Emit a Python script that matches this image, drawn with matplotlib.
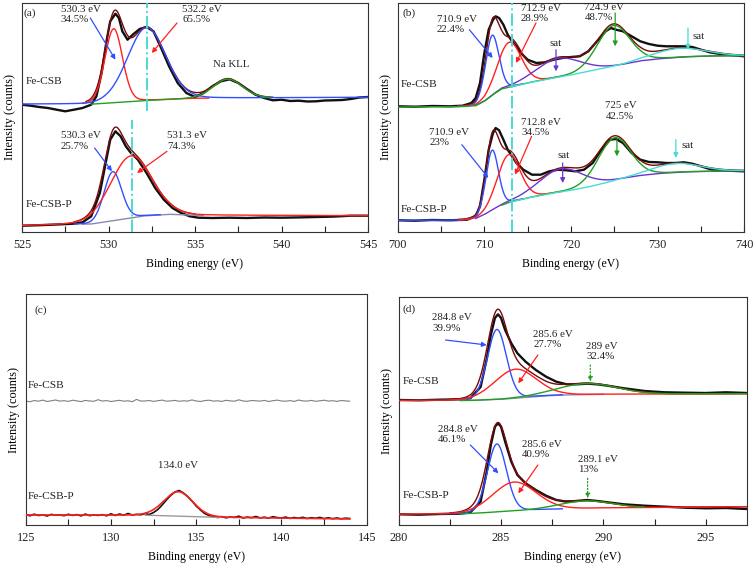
import numpy as np
import matplotlib.pyplot as plt
from matplotlib.ticker import MultipleLocator

plt.rcParams['font.family'] = ['Liberation Serif', 'DejaVu Serif']
plt.rcParams['font.size'] = 8.5
plt.rcParams['text.color'] = '#222222'

# ---------------- (a) O 1s ----------------
a1_x = [525, 525.5, 526, 526.5, 527, 527.5, 528, 528.5, 529, 529.3, 529.6, 529.9, 530.1, 530.4,
        530.6, 530.8, 531.1, 531.4, 531.8, 532.2, 532.6, 533, 533.5, 534, 534.5, 535, 535.5, 536,
        536.5, 537, 537.5, 538, 538.5, 539, 539.5, 540, 540.5, 541, 541.5, 542, 542.5, 543, 543.5,
        544, 544.5, 545]
a1_y = [127.3, 126.3, 125, 124, 122.3, 120.7, 122.3, 124, 127.3, 135.7, 159, 192.3, 210.7, 218.3,
        214, 200.7, 192.3, 197.3, 203, 205, 200.7, 185.7, 165.7, 149, 139, 135, 139, 145.7,
        150.7, 152.7, 149, 143, 137.3, 134, 131.7, 132.3, 131, 131.3, 130.5, 130.7, 131.5, 131.7, 132,
        133, 134.5, 135]
a1_bx = [525, 529, 532, 535, 545]
a1_by = [127.8, 127.8, 131.3, 133.7, 134.7]
a1_c = [530.3, 532.2, 536.9]          # O-lattice, O-H, Na KLL
a1_h = [74, 73, 19]
a1_w = [1.2, 2.6, 2.0]

a2_x = [525, 526, 527, 528, 528.5, 529, 529.5, 529.8, 530.1, 530.4, 530.7, 531, 531.3, 531.7, 532.2,
        532.7, 533.2, 533.7, 534.2, 534.7, 535.2, 536, 537, 538, 539, 540, 541, 542, 543, 544, 545]
a2_y = [6.3, 6.8, 7.5, 8.3, 9.7, 15.7, 39, 65.7, 92.3, 100.7, 95.7, 85.7, 79, 72.3, 59,
        44, 32.3, 24, 19, 15.7, 14.3, 14, 14.3, 14, 14.5, 14.3, 14.6, 15, 15.4, 16.3, 16.3]
a2_bx = [525, 529, 530.5, 532, 533.5, 535, 545]
a2_by = [6.3, 8, 12, 16, 17.7, 16.7, 16.3]
a2_c = [530.25, 531.3]
a2_h = [49, 62]
a2_w = [1.2, 2.8]

# ---------------- (b) Fe 2p ----------------
b1_x = [700, 702, 704, 706, 707.5, 708.5, 709, 709.5, 710, 710.5, 711, 711.3, 711.7, 712.2, 712.7,
        713.2, 713.7, 714.2, 715, 716, 717, 718, 719, 720, 721, 722, 723, 724, 724.6, 725.2, 726,
        727, 728, 729, 730, 731, 732, 733, 734, 735, 736, 737, 738, 740]
b1_y = [125.7, 125.3, 126, 125.7, 126.3, 129, 134, 149, 179, 202.3, 212.3, 215.7, 214, 207.3, 197.3,
        190.7, 185.7, 179, 172.3, 169, 169.7, 172.3, 174, 175, 175.7, 180.7, 190.7, 200.7, 204,
        202.3, 200.7, 195.7, 190.7, 188, 186.3, 185.7, 185.7, 185.7, 185, 182.3, 179.7, 178.3,
        177.3, 175.7]
b1_bx = [700, 707.5, 709, 710, 711, 712, 713, 715, 718, 720, 722, 724, 726, 728, 730, 733, 736, 740]
b1_by = [125, 125.3, 126.3, 130.7, 137.3, 143, 145, 149, 154, 157, 160.7, 164, 167.3, 171, 173,
         175, 176, 176.3]
b1_c = [710.9, 712.9, 718.5, 724.9, 732.5]
b1_h = [60, 45, 19, 41, 9]
b1_w = [1.8, 3.2, 6.0, 4.4, 7.0]

b2_x = [700, 702, 704, 706, 708, 709, 709.5, 710, 710.5, 711, 711.3, 711.7, 712.2, 712.7, 713.2,
        713.7, 714.5, 715.5, 716.5, 717.5, 718.5, 719.5, 720.5, 721.5, 722.5, 723.5, 724.5, 725.2,
        726, 727, 728, 729, 730, 731, 732, 733, 734, 735, 736, 737, 740]
b2_y = [11.7, 11.3, 12, 11.7, 12.3, 15.7, 25.7, 52.3, 82.3, 99, 104, 101.7, 92.3, 82.3, 75.7,
        69, 62.3, 57.3, 57.3, 60.7, 62.3, 61.7, 60.7, 62.3, 69, 82.3, 92.3, 93,
        89, 79, 72.3, 70, 69.7, 69, 69, 69.7, 68.3, 65.7, 63, 61.7, 60.7]
b2_bx = [700, 707.5, 709, 710, 711, 712, 713, 715, 718, 720, 722, 724, 726, 728, 730, 733, 736, 740]
b2_by = [11.7, 11.7, 13.3, 17.3, 22.3, 26.7, 30, 34, 39, 41.7, 45, 49, 53.3, 56.3, 58.3, 60,
         60.7, 61.3]
b2_c = [710.9, 712.8, 718.8, 725.0, 732.1]
b2_h = [60, 48, 23, 43, 9]
b2_w = [1.7, 3.1, 6.0, 4.4, 6.5]

# ---------------- (c) P 2p ----------------
c1_y = [124.0, 123.2, 124.5, 123.8, 124.9, 123.5, 124.2, 125.0, 123.9, 124.3, 123.6, 124.8, 124.1,
        123.4, 124.6, 124.0, 123.7, 125.3, 123.9, 124.4, 123.5, 124.1, 124.7, 123.8, 124.2, 123.3,
        125.6, 123.9, 124.0, 124.5, 123.6, 124.3, 124.9, 123.8, 124.1, 124.6, 123.7, 124.2, 123.9,
        125.1, 124.0, 123.5, 124.4, 124.8, 123.9, 124.2, 123.6, 124.7, 124.1, 123.8, 125.2, 124.0,
        123.7, 124.5, 124.2, 123.9, 124.6, 123.5, 124.3, 124.9, 124.0, 123.8, 124.4, 123.6, 125.0,
        124.1, 123.9, 124.6, 123.7, 124.2, 124.8, 123.9, 124.3, 123.6, 124.5, 124.1, 123.8]
c2_y = [10.5, 9.2, 10.8, 9.5, 10.2, 9.0, 10.6, 9.8, 10.1, 9.3, 10.7, 9.6, 10.4, 9.1, 10.9, 9.4,
        10.0, 9.6, 10.3, 9.2, 11.2, 9.5, 11.0, 9.8, 11.5, 10.0, 10.6, 10.2, 11.4, 10.5, 12.5, 15.5,
        20.0, 25.0, 29.5, 33.0, 34.5, 32.0, 28.5, 24.0, 19.0, 15.0, 11.5, 9.5, 8.6, 7.5, 8.4, 7.2,
        8.0, 7.6, 8.8, 7.0, 7.9, 7.3, 8.5, 7.1, 7.8, 6.9, 8.3, 7.4, 7.0, 7.9, 6.6, 7.5, 6.8, 7.7,
        6.5, 7.3, 6.7, 7.6, 6.4, 7.2, 6.3, 7.0, 6.2, 6.8, 6.5]
c_range = (125, 144)
c2_bx = [125, 132.3, 136, 144]
c2_by = [10, 9.7, 7.7, 6]
c2_c = [133.95]
c2_h = [24.5]
c2_w = [2.0]

# ---------------- (d) C 1s ----------------
d_x = [280, 281, 282, 283, 283.5, 284, 284.3, 284.5, 284.7, 284.85, 285, 285.2, 285.5, 285.8, 286.2,
       286.7, 287.2, 287.7, 288.2, 288.7, 289.2, 289.7, 290.2, 291, 292, 293, 294, 295, 296, 297]
d1_y = [125, 124.7, 125.3, 125.7, 126.7, 138, 166, 190, 207, 210.7, 207, 195, 181.7, 171.7, 163.3,
        155, 148.3, 143.3, 140.7, 140.7, 141.3, 140.7, 139.3, 136.7, 134, 132.7, 132.3, 132, 132.7,
        132]
d1_bx = [280, 283.5, 285, 286, 287, 288, 290, 297]
d1_by = [124.5, 124.5, 125.7, 127.3, 129, 130, 130.7, 131.3]
d1_c = [284.8, 285.7, 289.2]
d1_h = [70, 29, 11]
d1_w = [1.1, 2.4, 3.4]

d2_y = [10.7, 10.3, 11, 11.3, 12.7, 23.3, 53.3, 80, 98.3, 101.7, 98.3, 83.3, 63.3, 50, 41.7,
        35, 29.3, 25, 23.3, 24, 25, 24, 22.7, 20.7, 19.3, 18.3, 17.3, 16.7, 17, 16]
d2_bx = [280, 283, 284, 285, 286, 287, 288, 290, 297]
d2_by = [10.7, 11, 12, 13.3, 14.3, 15.3, 16, 17, 18.3]
d2_c = [284.8, 285.65, 289.1]
d2_h = [68, 29, 7.5]
d2_w = [1.1, 2.5, 3.0]

BLUE = '#3050ff'
RED = '#ff2020'
GREEN = '#20a020'
PURPLE = '#6a35d0'
CYAN = '#45dcd4'
ENV = '#7a0a0a'
BASE = '#8a8ab0'
DATA = '#111111'
ANN = 7.8
SAMPLE = 8.2


def gl(x, c, h, w, m=0.1):
    g = np.exp(-4 * np.log(2) * (x - c) ** 2 / w ** 2)
    l = 1 / (1 + 4 * (x - c) ** 2 / w ** 2)
    return h * ((1 - m) * g + m * l)


def spectrum(ax, xlim, dx, dy, bx, by, cs, hs, ws, colors, spans, env_span, base_color=BASE,
             base_span=None):
    x = np.linspace(xlim[0], xlim[1], 1200)
    base = np.interp(x, bx, by)
    comps = [gl(x, c, h, w) for c, h, w in zip(cs, hs, ws)]
    ax.plot(dx, dy, color=DATA, lw=1.7, zorder=2)
    k = (x >= env_span[0]) & (x <= env_span[1])
    ax.plot(x[k], (base + sum(comps))[k], color=ENV, lw=1.0, zorder=3)
    if base_span is not None:
        k = (x >= base_span[0]) & (x <= base_span[1])
        ax.plot(x[k], base[k], color=base_color, lw=1.0, zorder=3)
    for comp, col, sp in zip(comps, colors, spans):
        k = (x >= sp[0]) & (x <= sp[1])
        ax.plot(x[k], (base + comp)[k], color=col, lw=1.0, zorder=4)


def arrow(ax, start, end, color, ls='-'):
    ax.annotate('', xy=end, xytext=start,
                arrowprops=dict(arrowstyle='-|>', color=color, lw=0.9, ls=ls,
                                mutation_scale=7, shrinkA=0, shrinkB=0), zorder=6)


def label(ax, x, y, s):
    ax.text(x, y, s, ha='left', va='top', fontsize=ANN, linespacing=1.2, zorder=7)


def style(ax, xlim, major, ylim):
    ax.set_xlim(*xlim)
    ax.set_ylim(*ylim)
    ax.set_yticks([])
    ax.xaxis.set_major_locator(MultipleLocator(major))
    ax.xaxis.set_minor_locator(MultipleLocator(major / 2))
    ax.tick_params(axis='x', which='both', direction='in', length=4, width=0.8, pad=5,
                   labelsize=8.8, colors='#222222')
    for s in ax.spines.values():
        s.set_linewidth(0.8)
        s.set_color('#333333')
    ax.set_xlabel('Binding energy (eV)', fontsize=8.5, labelpad=5)
    ax.set_ylabel('Intensity (counts)', fontsize=8.8, labelpad=4)


fig = plt.figure(figsize=(7.56, 5.65), dpi=100)
W, H = 756, 565
axa = fig.add_axes([22 / W, 1 - 232 / H, 346 / W, 229 / H])
axb = fig.add_axes([397.7 / W, 1 - 232 / H, 346.6 / W, 229 / H])
axc = fig.add_axes([25.7 / W, 1 - 525 / H, 341 / W, 230.7 / H])
axd = fig.add_axes([398.7 / W, 1 - 525 / H, 348 / W, 228.3 / H])

# ---- (a)
spectrum(axa, (525, 545), a1_x, a1_y, a1_bx, a1_by, a1_c, a1_h, a1_w,
         [RED, BLUE, GREEN], [(528.5, 535.8), (525, 545), (529, 539.3)], (528.7, 539.5))
spectrum(axa, (525, 545), a2_x, a2_y, a2_bx, a2_by, a2_c, a2_h, a2_w,
         [BLUE, RED], [(528, 533), (525, 545)], (528, 535), base_span=(528.5, 535.5))
axa.plot([532.2, 532.2], [120.7, 229], color=CYAN, lw=1.4, ls='-.', zorder=5)
axa.plot([531.35, 531.35], [0, 112.3], color=CYAN, lw=1.4, ls='-.', zorder=5)
label(axa, 527.25, 227.3, '530.3 eV\n34.5%')
label(axa, 534.25, 227.3, '532.2 eV\n65.5%')
label(axa, 536.05, 172.3, 'Na KLL')
label(axa, 527.25, 100.7, '530.3 eV\n25.7%')
label(axa, 533.38, 100.7, '531.3 eV\n74.3%')
arrow(axa, (528.95, 214), (530.4, 172.3), BLUE)
arrow(axa, (533.96, 209), (532.5, 179), RED)
arrow(axa, (529.2, 84), (530.2, 60.7), BLUE)
arrow(axa, (533.38, 80.7), (531.65, 59), RED)
axa.text(525.2, 150.7, 'Fe-CSB', va='center', fontsize=SAMPLE)
axa.text(525.2, 27.3, 'Fe-CSB-P', va='center', fontsize=SAMPLE)
axa.text(0.005, 0.978, '(a)', transform=axa.transAxes, va='top', fontsize=SAMPLE)
style(axa, (525, 545), 5, (0, 229))

# ---- (b)
b_cols = [BLUE, RED, PURPLE, GREEN, CYAN]
spectrum(axb, (700, 740), b1_x, b1_y, b1_bx, b1_by, b1_c, b1_h, b1_w, b_cols,
         [(707, 714.5), (707, 719), (709, 740), (700, 740), (713, 740)], (707, 740))
spectrum(axb, (700, 740), b2_x, b2_y, b2_bx, b2_by, b2_c, b2_h, b2_w, b_cols,
         [(700, 714.5), (707, 719), (709, 740), (712, 740), (713, 740)], (707, 740))
axb.plot([713.2, 713.2], [0, 229], color=CYAN, lw=1.4, ls='-.', zorder=5)
label(axb, 704.5, 217.3, '710.9 eV\n22.4%')
label(axb, 714.23, 228.3, '712.9 eV\n28.9%')
label(axb, 721.54, 229.5, '724.9 eV\n48.7%')
label(axb, 717.5, 193, 'sat')
label(axb, 734.0, 199.7, 'sat')
arrow(axb, (708.27, 202.3), (710.96, 174), BLUE)
arrow(axb, (715.96, 209), (713.65, 169), RED)
arrow(axb, (725.1, 219), (725.1, 185.7), GREEN)
arrow(axb, (718.27, 182.3), (718.27, 160.7), PURPLE)
arrow(axb, (733.5, 204), (733.5, 182.3), CYAN)
label(axb, 703.65, 104, '710.9 eV\n23%')
label(axb, 714.23, 114, '712.8 eV\n34.5%')
label(axb, 723.96, 130.7, '725 eV\n42.5%')
label(axb, 718.46, 80.7, 'sat')
label(axb, 732.7, 90.7, 'sat')
arrow(axb, (707.4, 87.3), (710.46, 54), BLUE)
arrow(axb, (715.46, 95.7), (713.54, 57.3), RED)
arrow(axb, (725.3, 92.3), (725.3, 75.7), GREEN)
arrow(axb, (719.04, 69), (719.04, 49), PURPLE)
arrow(axb, (732.1, 92.3), (732.1, 74), CYAN)
axb.text(700.4, 147.3, 'Fe-CSB', va='center', fontsize=SAMPLE)
axb.text(700.4, 22.3, 'Fe-CSB-P', va='center', fontsize=SAMPLE)
axb.text(0.0125, 0.977, '(b)', transform=axb.transAxes, va='top', fontsize=SAMPLE)
style(axb, (700, 740), 10, (0, 229))

# ---- (c)
cx1 = np.linspace(c_range[0], c_range[1], len(c1_y))
cx2 = np.linspace(c_range[0], c_range[1], len(c2_y))
axc.plot(cx1, c1_y, color='#7f7f7f', lw=0.8)
xc = np.linspace(c_range[0], c_range[1], 800)
basec = np.interp(xc, c2_bx, c2_by)
axc.plot(cx2, c2_y, color=DATA, lw=1.2, zorder=2)
k = (xc >= 132) & (xc <= 136.5)
axc.plot(xc[k], basec[k], color='#999999', lw=1.0, zorder=3)
axc.plot(xc, basec + gl(xc, c2_c[0], c2_h[0], c2_w[0]), color=RED, lw=1.2, zorder=4)
label(axc, 132.75, 64.3, '134.0 eV')
axc.text(125.1, 140, 'Fe-CSB', va='center', fontsize=SAMPLE)
axc.text(125.1, 28.3, 'Fe-CSB-P', va='center', fontsize=SAMPLE)
axc.text(0.025, 0.95, '(c)', transform=axc.transAxes, va='top', fontsize=SAMPLE)
style(axc, (125, 145), 5, (0, 230.7))

# ---- (d)
d_cols = [BLUE, RED, GREEN]
spectrum(axd, (280, 297), d_x, d1_y, d1_bx, d1_by, d1_c, d1_h, d1_w, d_cols,
         [(283, 288), (280, 297), (283, 297)], (282.5, 297), base_span=(283, 290))
spectrum(axd, (280, 297), d_x, d2_y, d2_bx, d2_by, d2_c, d2_h, d2_w, d_cols,
         [(282, 288), (280, 297), (283, 292)], (282.5, 297))
label(axd, 281.64, 211.7, '284.8 eV\n39.9%')
label(axd, 286.57, 195, '285.6 eV\n27.7%')
label(axd, 289.15, 183.3, '289 eV\n32.4%')
arrow(axd, (282.29, 185), (284.3, 180), BLUE)
arrow(axd, (286.8, 170), (285.84, 141.7), RED)
arrow(axd, (289.36, 160), (289.36, 143.3), GREEN, ls=':')
label(axd, 281.93, 100, '284.8 eV\n46.1%')
label(axd, 286.0, 85, '285.6 eV\n40.9%')
label(axd, 288.78, 70, '289.1 eV\n13%')
arrow(axd, (283.5, 80), (284.87, 51.7), BLUE)
arrow(axd, (286.8, 60), (285.84, 31.7), RED)
arrow(axd, (289.23, 46.7), (289.23, 26.7), GREEN, ls=':')
axd.text(280.2, 143.3, 'Fe-CSB', va='center', fontsize=SAMPLE)
axd.text(280.2, 30, 'Fe-CSB-P', va='center', fontsize=SAMPLE)
axd.text(0.0115, 0.968, '(d)', transform=axd.transAxes, va='top', fontsize=SAMPLE)
style(axd, (280, 297), 5, (0, 228.3))

fig.savefig('out.png', dpi=100)
